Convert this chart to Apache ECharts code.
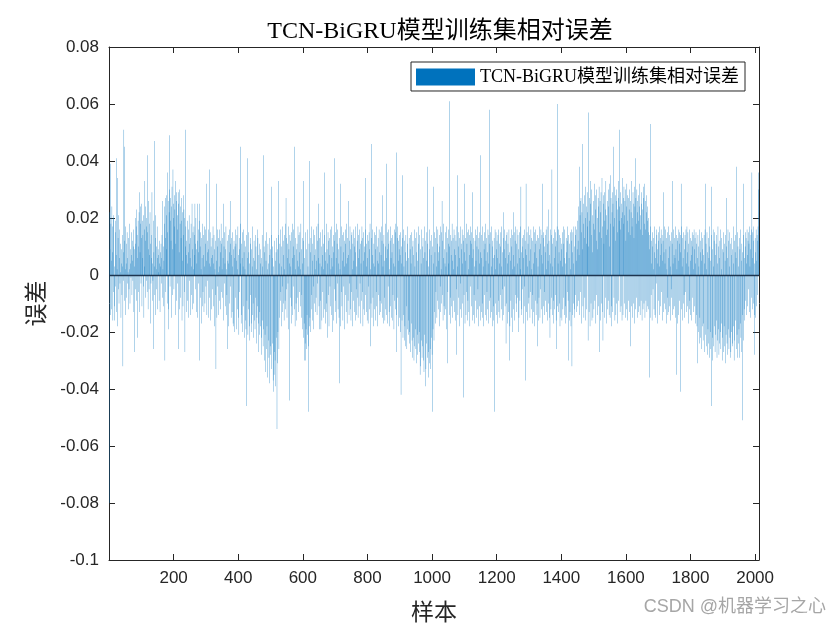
<!DOCTYPE html>
<html>
<head>
<meta charset="utf-8">
<script src="https://cdn.jsdelivr.net/npm/echarts@6/dist/echarts.min.js"></script>
<style>html,body{margin:0;padding:0;background:#fff;}#chart{width:840px;height:630px;}</style>
</head>
<body>
<div id="chart"></div>
<script>
// Relative error per sample, in units of 0.001 (samples 1..2011), split in parts
const relErrMilliA = [
-80,22,9,39,-14,18,5,-12,24,17,
8,-16,20,-6,21,-11,3,-16,15,-4,
19,7,-13,41,2,-18,34,13,-5,21,
-10,6,16,-3,1,11,-15,4,9,-7,
3,14,-32,8,-2,51,45,-9,12,2,
-14,17,4,-8,11,15,-3,6,1,-12,
13,-5,2,18,-10,4,9,-1,15,7,
-7,12,5,-2,16,10,-13,3,-27,9,
20,11,-5,17,23,-9,14,6,-22,19,
10,-6,22,29,-13,8,24,18,-3,13,
25,-11,6,19,14,-4,21,-15,16,3,
33,-8,24,12,-2,17,20,-6,42,15,
-12,9,26,-5,18,7,22,-17,11,-3,
6,14,29,-9,4,-2,19,-26,8,3,
47,-7,13,21,-14,10,2,-5,17,6,
-12,9,1,7,-9,12,4,-13,3,8,
11,-3,6,14,26,-8,2,10,-11,5,
18,24,-30,13,27,-6,21,9,28,-10,
15,36,26,-12,-19,22,30,49,-4,19,
27,12,-15,24,31,9,-7,37,20,25,
-5,28,17,23,-14,33,11,26,-9,29,
21,16,-3,29,-26,25,8,30,-12,18,
24,-8,13,27,19,-16,22,5,-11,28,
14,23,-6,20,-27,10,51,17,-13,7,
12,-9,19,4,-15,16,8,21,-2,11,
6,-14,13,18,3,-7,25,9,-12,15,
2,-10,17,7,14,25,-5,11,20,-13,
9,4,25,-15,12,16,-3,8,19,-30,
25,10,-8,15,2,-17,13,6,-11,18,
-6,14,7,-13,17,3,-10,11,16,-4,
32,5,-14,12,8,-2,16,9,-15,4,
37,-8,15,3,-16,10,6,-12,13,-5,
7,17,-11,4,14,-18,9,2,-7,12,
-33,5,32,-15,10,16,-4,13,1,-14,
16,-9,3,12,-12,8,18,-6,11,2,
-8,13,6,-16,25,10,-3,15,4,-11,
9,17,-14,2,-7,-26,12,5,-18,14,
4,-10,16,8,26,-4,11,-15,7,13,
-13,15,3,-17,9,-18,12,6,-20,10,
16,-8,11,5,-19,14,-12,2,17,-15,
7,-21,13,9,-6,18,4,45,-17,11,
-14,6,15,-20,3,-11,16,8,-22,12,
2,-16,10,-19,-46,14,-9,41,6,-21,
15,-12,8,-18,4,-23,13,-7,11,-17,
9,-20,3,-14,17,-10,6,-22,12,-16,
5,-19,14,-8,10,-24,2,-15,16,-11,
13,-17,-27,7,-21,11,-13,4,-18,9,
-22,6,-28,14,-16,3,-25,42,-19,10,
-30,8,-21,12,-34,5,-26,15,-18,2,
-36,11,-23,4,-29,13,-38,7,-25,9
];
const relErrMilliB = [
-28,14,31,-33,6,-24,10,-37,-41,3,
-35,12,-27,-30,5,-39,8,-22,13,-54,
-31,9,-20,33,14,-26,4,-15,11,-9,
16,-6,10,-18,3,-13,17,-4,12,-10,
7,-16,14,2,-9,18,-12,27,-5,13,
-15,6,11,-3,17,-19,9,4,-44,14,
12,-8,3,-17,15,-11,6,18,-14,10,
-4,16,7,-12,45,-18,13,2,-10,9,
-16,11,5,-8,17,-13,3,14,-6,8,
15,-11,2,18,-15,9,-7,13,4,-19,
33,-22,12,-17,-30,6,-24,-30,15,-19,
-26,9,-14,16,-21,3,-25,-48,11,-18,
40,-15,8,-20,13,-7,17,-12,5,-16,
11,-4,16,-19,7,14,-10,2,-13,9,
-8,17,5,-14,12,-3,18,6,25,-11,
13,-19,4,-9,15,-19,10,3,-16,7,
16,-6,11,2,-15,14,-12,36,8,-17,
5,-13,18,-10,9,4,-22,15,-7,12,
-18,7,13,-4,16,-11,2,17,-14,6,
10,-20,3,-16,14,8,-5,12,41,-13,
15,-9,6,18,-17,11,-3,16,-12,4,
9,-15,13,-38,2,32,-18,10,-6,17,
-11,14,5,-16,8,15,-4,12,-19,3,
16,-7,11,-13,4,18,-17,6,13,-9,
7,26,-14,12,-3,17,9,-12,-16,14,
-6,15,2,-18,11,-9,16,5,-13,10,
13,-16,8,17,-5,3,-14,12,-8,18,
-15,6,14,-11,9,16,-3,11,-17,4,
12,-9,17,-6,13,-18,5,15,-12,8,
-14,10,34,-7,16,-13,3,11,-16,14,
6,-17,12,-4,15,9,-12,18,-25,2,
-10,13,46,-15,7,16,-8,4,-18,11,
15,-12,3,14,-16,9,-6,17,-11,5,
10,-18,13,-7,4,16,-14,8,-9,15,
-13,7,17,-10,12,-15,28,3,-17,11,
14,-8,5,-16,18,10,-12,6,39,-14,
9,-17,15,-4,11,16,-13,2,-18,12,
17,-11,6,-15,13,8,-16,14,-7,4,
11,-19,16,-9,3,15,-12,18,43,-14,
-27,13,-8,17,5,-18,12,9,-15,14,
7,-20,15,-42,10,4,-16,13,35,-22,
16,-14,3,-23,12,-18,8,-25,14,-11,
5,-26,11,-19,17,-21,6,-16,13,-24,
-20,9,14,-27,4,-17,15,-23,10,-29,
12,-22,7,-30,16,-25,3,-19,13,-26,
8,-31,15,-21,5,-28,11,-24,17,-20,
14,-27,-35,9,-32,4,-23,16,-29,10,
-25,13,-30,6,-34,17,-21,8,-39,12,
-33,5,-24,15,38,-29,11,-36,3,-27,
16,-31,9,-26,12,-33,7,-22,14,-28
];
const relErrMilliC = [
-48,10,-19,31,4,-23,15,-13,8,-17,
13,-6,17,3,-15,11,-9,16,5,-12,
8,-18,14,10,-4,17,-13,2,15,-10,
26,-7,12,-16,6,18,-11,9,-14,4,
15,-12,3,17,-19,8,-31,13,-6,11,
4,16,-14,10,61,-8,14,-17,7,12,
-11,18,5,-15,13,2,-9,16,-13,9,
14,-16,7,12,-5,-28,17,3,35,-14,
10,-8,15,-18,6,13,-12,17,-3,11,
-15,9,16,-10,4,14,-43,12,-7,32,
8,-17,13,5,-14,18,-6,11,-16,15,
-9,16,2,-13,14,7,-18,12,-4,17,
11,-11,15,6,-16,29,9,-14,13,-7,
3,-17,12,16,-9,5,-15,14,10,-12,
17,-5,9,-18,13,4,-11,15,-16,8,
42,-13,6,14,-10,17,-15,3,12,-18,
9,15,-7,11,-14,18,5,-16,13,-6,
-12,8,16,-17,4,14,-9,58,11,-15,
15,-8,3,17,-13,10,-18,12,6,-11,
-16,13,-48,7,16,-10,2,15,-14,9,
12,-17,6,14,-9,16,-13,4,11,-15,
-7,10,15,-12,3,17,-16,8,-5,13,
22,-14,9,-4,16,-11,6,12,-24,14,
-10,15,4,-17,11,7,-13,16,-30,8,
-18,13,5,-9,16,-15,10,2,-20,14,
7,22,-12,15,3,-16,12,-7,17,-10,
11,-13,16,4,-8,14,-20,9,-15,6,
15,-9,2,17,31,-14,8,-12,13,-5,
10,-17,14,6,-11,16,-4,12,-37,9,
32,-13,7,15,-16,3,11,-10,17,-8,
5,14,-15,9,-6,16,-12,13,2,-17,
12,-7,17,-13,4,15,-18,8,11,-9,
16,-14,6,12,-10,-25,14,3,-16,13,
-8,17,9,-15,11,-5,16,-12,7,14,
32,-17,4,13,-11,15,-6,10,-14,8,
14,-9,16,-13,2,17,-16,11,5,23,
-10,12,7,-15,-22,16,4,-12,14,-8,
37,-14,11,3,-17,13,-9,16,6,-12,
15,-7,10,-16,-26,12,17,-11,60,4,
-13,16,8,-10,14,-18,5,13,-15,11,
9,-16,15,3,-12,17,-8,11,-14,6,
16,-11,4,-17,13,8,-15,12,-6,17,
-9,-30,14,6,-16,11,-13,15,2,-18,
12,16,-32,8,-14,15,-10,4,17,-12,
-15,10,14,-7,17,5,-13,16,9,-11,
19,12,-9,24,7,38,-14,21,26,-6,
27,15,-17,22,46,9,-11,25,18,-15,
13,28,-8,20,31,-16,11,24,-12,29,
22,17,-23,57,10,-13,27,19,-18,33,
25,-10,14,30,-16,21,8,-15,26,18
];
const relErrMilliD = [
-12,32,16,-9,23,28,-17,12,30,-7,
20,9,-14,27,24,-11,31,-27,15,26,
-16,22,29,13,-10,34,17,-13,-23,25,
28,11,-15,29,19,-8,23,33,-17,14,
21,-12,26,16,-9,30,24,-14,32,10,
-15,35,18,27,-11,-18,22,29,-13,25,
17,45,-8,31,20,-16,28,12,-14,26,
30,-10,23,15,-17,27,33,-9,19,24,
51,-13,16,29,-11,25,20,-16,34,22,
-14,27,18,31,-10,21,26,-15,30,12,
24,-12,32,19,-16,28,15,-9,27,23,
-13,30,14,-25,26,22,-11,33,17,-15,
20,29,-10,25,13,-17,31,24,41,-12,
27,-8,18,30,-15,22,26,-13,19,28,
-11,24,32,-14,21,16,-9,29,25,-16,
23,14,-12,31,27,-10,32,18,-15,26,
16,-9,22,28,-13,19,24,-11,20,15,
-12,-36,14,9,-15,17,53,-7,12,4,
-16,10,15,-5,13,2,-12,17,8,-14,
6,-15,11,16,-3,14,9,-17,4,12,
-9,15,3,-14,17,7,-11,13,16,-6,
11,14,-16,5,12,-13,29,8,-10,17,
4,-12,16,9,-17,13,2,-8,15,-14,
-13,17,6,-11,14,10,-16,3,12,-5,
15,-8,11,33,-14,4,16,-12,7,13,
-11,6,17,-15,9,14,-35,2,12,-17,
13,-14,5,16,-9,11,15,-41,8,14,
32,-12,17,3,-16,13,6,-10,15,-7,
-15,9,14,-6,12,16,-13,4,17,-11,
8,15,-17,11,3,-12,16,-9,13,5,
-14,12,7,-16,15,10,-8,14,2,-13,
16,-11,9,13,-17,4,15,-14,11,-18,
6,-31,14,-20,10,3,-24,16,-15,8,
-22,12,5,-26,15,-18,9,13,-23,7,
-17,14,-27,4,16,-21,32,11,-25,2,
15,-28,8,-19,13,-24,6,17,-29,10,
-20,5,-26,14,-46,31,-22,9,-30,16,
3,-25,12,-18,15,-27,7,-21,11,-16,
14,-29,4,-23,17,-19,10,-28,6,-24,
12,-20,16,-26,2,-17,13,-30,9,-22,
8,-27,15,-18,11,-25,5,-31,14,-21,
10,27,-24,6,-28,16,-19,12,-26,3,
15,-22,-29,11,-27,7,-20,13,-24,9,
-25,17,-18,4,-30,12,-23,8,-16,14,
6,-26,38,-21,15,-29,10,-24,3,-19,
13,-29,9,-17,16,-22,5,-27,11,-14,
-51,8,32,-23,14,-12,6,-16,10,15,
-9,13,4,-14,16,7,-11,12,-5,15,
11,-13,17,3,-15,9,14,-8,16,36,
-12,6,15,-10,12,17,-14,4,-28,13,
8,-15,16,5,-11,14,-7,12,17,36,
30
];
const yTicks = [-0.1, -0.08, -0.06, -0.04, -0.02, 0, 0.02, 0.04, 0.06, 0.08];
const xTickStep = 200;
const titleText = 'TCN-BiGRU模型训练集相对误差';
const seriesName = 'TCN-BiGRU模型训练集相对误差';

const allMilli = relErrMilliA.concat(relErrMilliB, relErrMilliC, relErrMilliD);
const barData = allMilli.map((v, i) => [i + 1, v / 1000]);

const chart = echarts.init(document.getElementById('chart'), null, {renderer: 'canvas'});
const axisColor = '#262626';
const fmtY = v => String(Number(v.toFixed(2)));
const lineStyle = {color: axisColor, width: 1};
chart.setOption({
  animation: false,
  backgroundColor: '#ffffff',
  title: {
    text: titleText, left: 435, top: 15, textAlign: 'center',
    textStyle: {fontFamily: 'Liberation Serif, Noto Sans CJK SC', fontSize: 24, fontWeight: 'normal', color: '#000'}
  },
  legend: {
    data: [{name: seriesName, icon: 'rect'}],
    left: 411, top: 62,
    itemWidth: 59, itemHeight: 17, itemGap: 0,
    padding: [6, 6, 5, 5],
    borderColor: axisColor, borderWidth: 1, backgroundColor: '#fff',
    textStyle: {fontFamily: 'Liberation Serif, Noto Sans CJK SC', fontSize: 18, color: '#000'}
  },
  grid: {left: 109, right: 81, top: 47, bottom: 70},
  xAxis: [{
    type: 'value', min: 0, max: 2012, interval: xTickStep,
    name: '样本', nameLocation: 'middle', nameGap: 40,
    nameTextStyle: {fontFamily: 'Noto Sans CJK SC', fontSize: 23, color: axisColor},
    axisLine: {show: true, onZero: false, lineStyle: lineStyle},
    axisTick: {show: true, inside: true, length: 6, lineStyle: lineStyle},
    axisLabel: {margin: 10, fontFamily: 'Liberation Sans', fontSize: 17, color: axisColor,
      formatter: v => (v === 0 ? '' : String(v))},
    splitLine: {show: false}
  }, {
    type: 'value', position: 'top', min: 0, max: 2012, interval: xTickStep,
    axisLine: {show: true, onZero: false, lineStyle: lineStyle},
    axisTick: {show: true, inside: true, length: 6, lineStyle: lineStyle},
    axisLabel: {show: false}, splitLine: {show: false}
  }],
  yAxis: [{
    type: 'value', min: yTicks[0], max: yTicks[yTicks.length - 1], interval: 0.02,
    name: '误差', nameLocation: 'middle', nameGap: 62,
    nameTextStyle: {fontFamily: 'Noto Sans CJK SC', fontSize: 23, color: axisColor},
    axisLine: {show: true, onZero: false, lineStyle: lineStyle},
    axisTick: {show: true, inside: true, length: 6, lineStyle: lineStyle},
    axisLabel: {margin: 10, fontFamily: 'Liberation Sans', fontSize: 17, color: axisColor, formatter: fmtY},
    splitLine: {show: false}
  }, {
    type: 'value', position: 'right', min: yTicks[0], max: yTicks[yTicks.length - 1], interval: 0.02,
    axisLine: {show: true, onZero: false, lineStyle: lineStyle},
    axisTick: {show: true, inside: true, length: 6, lineStyle: lineStyle},
    axisLabel: {show: false}, splitLine: {show: false}
  }],
  series: [{
    name: seriesName, type: 'bar', xAxisIndex: 0, yAxisIndex: 0,
    data: barData, barWidth: 0.31, barMinWidth: 0.1,
    itemStyle: {color: '#0072BD'},
    markLine: {
      silent: true, symbol: 'none', label: {show: false},
      lineStyle: {color: '#1d3550', width: 1.3, type: 'solid'},
      data: [{yAxis: 0}]
    }
  }],
  graphic: [{
    type: 'text', right: 14, top: 598,
    style: {text: 'CSDN @机器学习之心', fontFamily: 'Liberation Sans, Noto Sans CJK SC', fontSize: 18, fill: '#a6a6a6'}
  }]
});
</script>
</body>
</html>
